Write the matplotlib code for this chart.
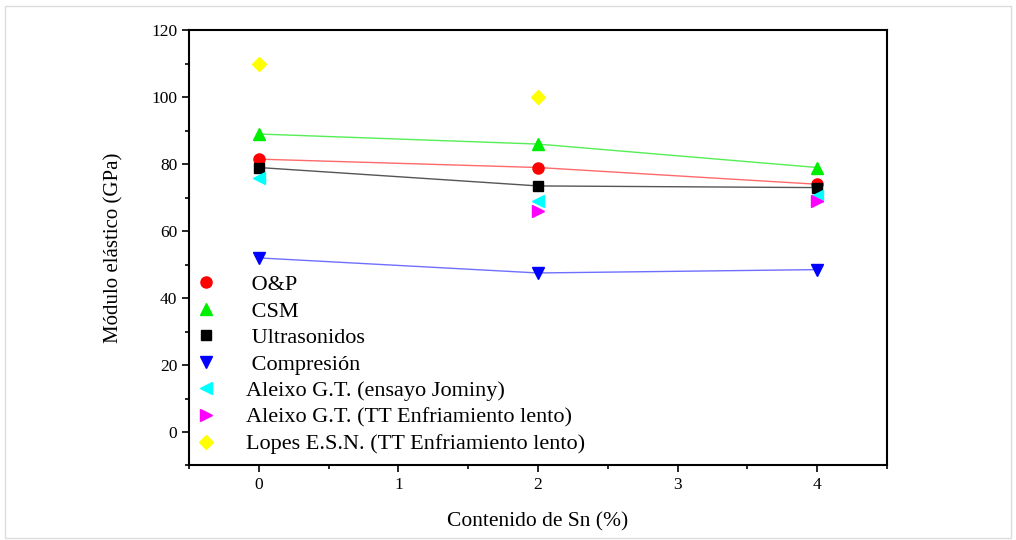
import matplotlib.pyplot as plt
from matplotlib.patches import Rectangle
from matplotlib.ticker import MultipleLocator

plt.rcParams['font.family'] = ['Liberation Serif', 'DejaVu Serif']

# datos
sn = [0, 2, 4]
op = [81.5, 79, 74]
csm = [89, 86, 79]
ultra = [79, 73.5, 73]
compresion = [52, 47.5, 48.5]
sn_jominy = [0, 2, 4]
jominy = [76, 69, 70.5]
sn_aleixo_tt = [2, 4]
aleixo_tt = [66, 69]
sn_lopes = [0, 2]
lopes = [110, 100]

fig = plt.figure(figsize=(10.16, 5.4), dpi=100)
ax = fig.add_axes([0.186, 0.138, 0.687, 0.806])

ms = 8
ax.plot(sn, op, color='#ff6a6a', lw=1, zorder=1)
ax.plot(sn, csm, color='#55ee55', lw=1, zorder=1)
ax.plot(sn, ultra, color='#555555', lw=1, zorder=1)
ax.plot(sn, compresion, color='#6f6fff', lw=1, zorder=1)

ax.plot(sn, op, 'o', color='#ff0000', ms=ms, label=' O&P')
ax.plot(sn, csm, '^', color='#00ee00', ms=ms, label=' CSM')
ax.plot(sn, ultra, 's', color='black', ms=ms - 1, label=' Ultrasonidos')
ax.plot(sn, compresion, 'v', color='#0000ff', ms=ms, label=' Compresión')
ax.plot(sn_jominy, jominy, '<', color='#00ffff', ms=ms, label='Aleixo G.T. (ensayo Jominy)')
ax.plot(sn_aleixo_tt, aleixo_tt, '>', color='#ff00ff', ms=ms, label='Aleixo G.T. (TT Enfriamiento lento)')
ax.plot(sn_lopes, lopes, 'D', color='#ffff00', ms=ms - 1, label='Lopes E.S.N. (TT Enfriamiento lento)')

ax.set_xlim(-0.5, 4.5)
ax.set_ylim(-10, 120)
ax.set_xticks([0, 1, 2, 3, 4])
ax.set_yticks(range(0, 121, 20))
ax.xaxis.set_minor_locator(MultipleLocator(0.5))
ax.yaxis.set_minor_locator(MultipleLocator(10))
ax.tick_params(which='major', direction='out', length=5, width=1.2, labelsize=12.5)
ax.tick_params(which='minor', direction='out', length=3, width=1.2)
for s in ax.spines.values():
    s.set_linewidth(1.5)

ax.set_xlabel('Contenido de Sn (%)', fontsize=15.5, labelpad=14)
ax.set_ylabel('Módulo elástico (GPa)', fontsize=15, labelpad=20)

ax.legend(loc='lower left', bbox_to_anchor=(-0.008, 0.0), frameon=False, fontsize=16,
          handletextpad=1.3, labelspacing=0.27, handlelength=1.0, borderaxespad=0.2,
          borderpad=0.3)

fig.patches.append(Rectangle((0.005, 0.004), 0.99, 0.985, transform=fig.transFigure,
                             fill=False, edgecolor='#dcdcdc', lw=1))

fig.savefig('out.png', dpi=100)
